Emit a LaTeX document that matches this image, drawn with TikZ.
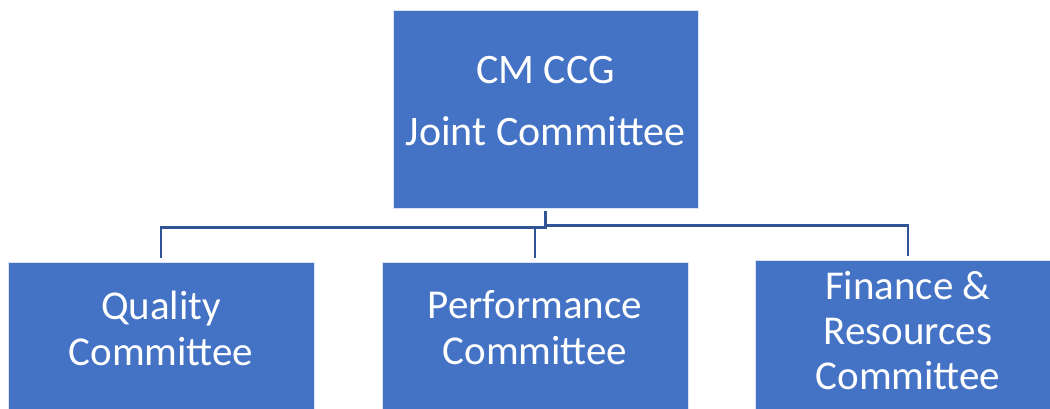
\documentclass[tikz,border=0pt]{standalone}
\usepackage{fontspec}
\setmainfont{Carlito}
\usetikzlibrary{positioning}
\definecolor{boxblue}{HTML}{4472C4}
\definecolor{linkblue}{HTML}{2F5597}
\tikzstyle{block} = [rectangle, draw=white!80!boxblue, line width=0.6pt, fill=boxblue, inner sep=0pt]
\tikzstyle{caption} = [text=white, align=center, inner sep=0pt, font=\fontsize{41}{46}\selectfont]
\tikzstyle{line} = [draw=linkblue, line width=2.4pt, shorten >=4pt]

\begin{document}
\begin{tikzpicture}[x=1pt,y=1pt]
\useasboundingbox (0,0) rectangle (1050,-408);

\node [block, minimum width=305, minimum height=198] (joint) at (545.5,-109) {};
\node [caption, font=\fontsize{42}{62}\selectfont] (jointtext) at ([yshift=8pt]joint.center) {CM CCG\\Joint Committee};

\node [block, minimum width=306, minimum height=148] (quality) at (161,-336) {};
\node [caption] (qualitytext) at ([yshift=8pt]quality.center) {Quality\\Committee};
\node [block, minimum width=306, minimum height=148] (performance) at (535,-336) {};
\node [caption] (performancetext) at ([yshift=8pt]performance.center) {Performance\\Committee};
\node [block, minimum width=306, minimum height=150] (finance) at (908,-335) {};
\node [caption, font=\fontsize{41}{45}\selectfont] (financetext) at ([yshift=4pt]finance.center) {Finance \&\\Resources\\Committee};

% links from the joint committee down to the sub-committees
\path [line] ([yshift=-3pt]joint.south) -- ++(0,-14) -| (finance.north);
\path [line] ([yshift=-3pt]joint.south) -- ++(0,-16) -| (quality.north);
\path [line] ([yshift=-3pt]joint.south) ++(0,-16) -| (performance.north);

\end{tikzpicture}
\end{document}
